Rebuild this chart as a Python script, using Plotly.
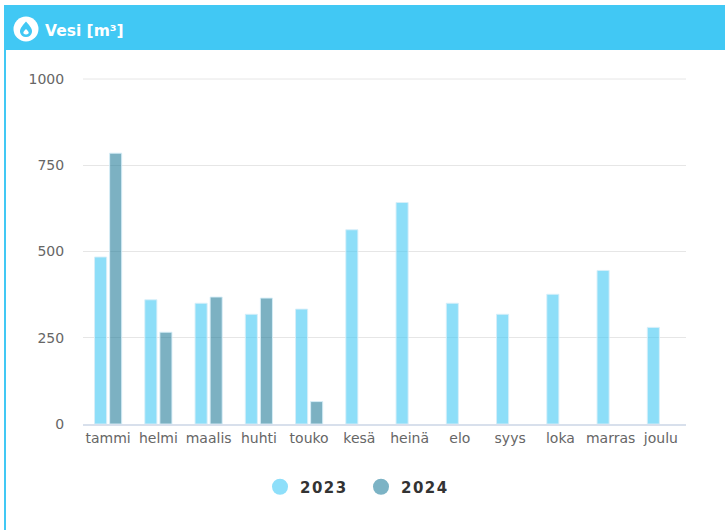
import plotly.graph_objects as go

months = ["tammi", "helmi", "maalis", "huhti", "touko", "kesä", "heinä", "elo", "syys", "loka", "marras", "joulu"]
values_2023 = [484, 360, 350, 318, 333, 563, 642, 350, 318, 376, 445, 280]
values_2024 = [785, 266, 368, 365, 65, None, None, None, None, None, None, None]
y_ticks = [0, 250, 500, 750, 1000]

W, H = 725, 530
L, R, T, B = 83, 686, 79, 424
COL_HEAD = "#41C8F4"
FONT = "DejaVu Sans"

def px(x):
    return (x - L) / (R - L)

def py(y):
    return (B - y) / (B - T)

fig = go.Figure()
for name, vals, col in [("2023", values_2023, "rgba(65,200,244,0.6)"), ("2024", values_2024, "rgba(30,120,150,0.58)")]:
    fig.add_trace(go.Bar(x=months, y=vals, name=name, showlegend=False,
                         marker=dict(color=col, line=dict(color="rgba(215,238,248,0.9)", width=1))))
for name, col in [("2 0 2 3".replace(" ", "\u200a"), "#8EDFFA"), ("2 0 2 4".replace(" ", "\u200a"), "#7CB3C5")]:
    fig.add_trace(go.Scatter(x=[months[0]], y=[None], mode="markers", name=name,
                             marker=dict(color=col, size=16, symbol="circle")))

shapes = [
    dict(type="rect", xref="paper", yref="paper", x0=px(4), x1=px(725), y0=py(50), y1=py(5),
         fillcolor=COL_HEAD, line_width=0, layer="below"),
    dict(type="rect", xref="paper", yref="paper", x0=px(4), x1=px(6), y0=py(530), y1=py(50),
         fillcolor=COL_HEAD, line_width=0, layer="below"),
    dict(type="line", xref="paper", yref="paper", x0=0, x1=1, y0=1, y1=1,
         line=dict(color="#E6E6E6", width=1), layer="below"),
    dict(type="circle", xref="paper", yref="paper", x0=px(13.5), x1=px(38.5), y0=py(41.5), y1=py(16.5),
         fillcolor="white", line_width=0),
]
drop = (f"M {px(26)} {py(21.5)} "
        f"Q {px(33)} {py(29)} {px(32)} {py(32)} "
        f"Q {px(31)} {py(37)} {px(26)} {py(37)} "
        f"Q {px(21)} {py(37)} {px(20)} {py(32)} "
        f"Q {px(19)} {py(29)} {px(26)} {py(21.5)} Z")
inner = (f"M {px(26)} {py(29)} "
         f"Q {px(29.5)} {py(32)} {px(28.5)} {py(33.5)} "
         f"Q {px(26)} {py(35.5)} {px(23.5)} {py(33.5)} "
         f"Q {px(22.5)} {py(32)} {px(26)} {py(29)} Z")
shapes.append(dict(type="path", xref="paper", yref="paper", path=drop, fillcolor=COL_HEAD, line_width=0))
shapes.append(dict(type="path", xref="paper", yref="paper", path=inner, fillcolor="white", line_width=0))

fig.update_layout(
    width=W, height=H, autosize=False,
    margin=dict(l=L, r=W - R, t=T, b=H - B, pad=0),
    paper_bgcolor="white", plot_bgcolor="white",
    barmode="group", bargap=0.4, bargroupgap=0.2,
    font=dict(family=FONT, size=14, color="#666666"),
    shapes=shapes,
    annotations=[dict(text="<b>Vesi [m³]</b>", xref="paper", yref="paper", x=px(42.5), y=py(31),
                      xanchor="left", yanchor="middle", showarrow=False,
                      font=dict(family=FONT, size=15.5, color="white"))],
    xaxis=dict(type="category", range=[-0.5, 11.5], tickfont=dict(size=14, color="#666666"), showgrid=False,
               showline=True, linecolor="#D8E0EC", linewidth=2, ticks="", ticklen=0),
    yaxis=dict(range=[0, 1000], tickvals=y_ticks, showgrid=True, gridcolor="#E6E6E6", gridwidth=1,
               zeroline=False, showline=False, tickfont=dict(size=14, color="#666666"),
               ticks="outside", ticklen=15, tickcolor="rgba(0,0,0,0)"),
    legend=dict(orientation="h", x=px(260), xanchor="left", y=py(487), yanchor="middle",
                font=dict(family=FONT, size=15, color="#333333", weight="bold"),
                itemsizing="trace", itemclick=False, itemdoubleclick=False,
                entrywidth=56, entrywidthmode="pixels"),
)

fig.write_html("out.html", config={"displayModeBar": False},
               post_script="document.body.style.margin='0';document.body.style.overflow='hidden';")
